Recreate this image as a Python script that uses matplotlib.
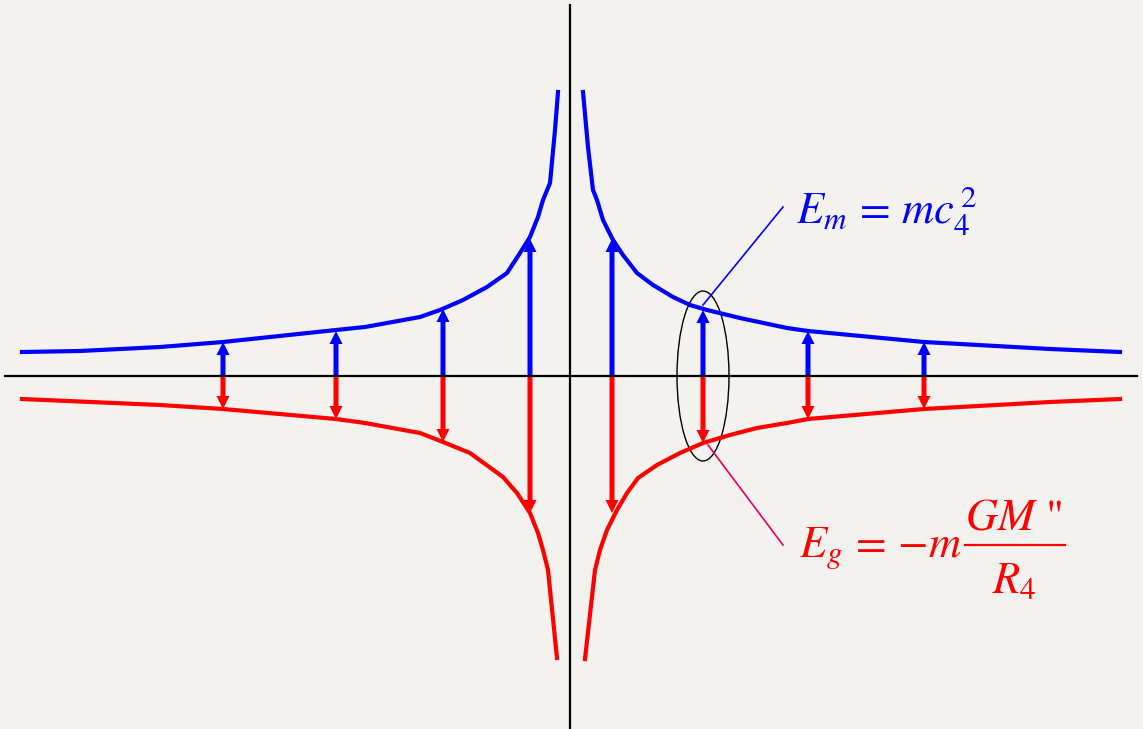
import matplotlib
matplotlib.use("Agg")
import matplotlib.pyplot as plt
from matplotlib.patches import Ellipse

plt.rcParams["mathtext.fontset"] = "stix"

# curves (x, y), origin at the axes crossing
blue_left_x = [-0.12, -0.15, -0.20, -0.27, -0.32, -0.40, -0.50, -0.63, -0.83, -1.07, -1.30, -1.50,
               -2.05, -2.34, -3.47, -4.10, -4.90, -5.48]
blue_left_y = [2.84, 2.46, 1.93, 1.76, 1.59, 1.39, 1.23, 1.03, 0.89, 0.76, 0.66, 0.59,
               0.49, 0.46, 0.34, 0.29, 0.25, 0.24]
blue_right_x = [0.13, 0.18, 0.23, 0.27, 0.33, 0.43, 0.53, 0.67, 0.83, 1.03, 1.20, 1.37, 1.70,
                2.17, 2.38, 3.54, 4.80, 5.50]
blue_right_y = [2.84, 2.29, 1.86, 1.76, 1.56, 1.36, 1.21, 1.03, 0.91, 0.79, 0.71, 0.66, 0.58,
                0.48, 0.45, 0.34, 0.27, 0.24]

red_left_x = [-0.13, -0.22, -0.27, -0.32, -0.40, -0.53, -0.67, -1.00, -1.27, -1.50,
              -2.05, -2.34, -3.47, -4.10, -5.48]
red_left_y = [-2.82, -1.94, -1.74, -1.57, -1.37, -1.17, -1.01, -0.77, -0.66, -0.57,
              -0.47, -0.43, -0.33, -0.29, -0.23]
red_right_x = [0.15, 0.25, 0.30, 0.37, 0.47, 0.57, 0.68, 0.87, 1.10, 1.33, 1.60, 1.87, 2.17,
               2.38, 3.54, 4.80, 5.50]
red_right_y = [-2.83, -1.94, -1.74, -1.54, -1.34, -1.17, -1.02, -0.89, -0.77, -0.67, -0.59, -0.52, -0.47,
               -0.43, -0.33, -0.26, -0.23]

# arrows
arrow_x = [-3.47, -2.34, -1.27, -0.40, 0.42, 1.33, 2.38, 3.54]
blue_tip = [0.34, 0.45, 0.67, 1.37, 1.37, 0.66, 0.45, 0.34]
red_tip = [-0.33, -0.43, -0.66, -1.37, -1.37, -0.67, -0.43, -0.33]

label_m = r"$E_m\,=\,mc_4^{\,2}$"
label_g = r"$E_g\,=\,{-}m$"
label_num = r'$GM$ "'
label_den = r"$R_4$"

bg = "#f3f2ee"
fig = plt.figure(figsize=(11.43, 7.29), dpi=100, facecolor=bg)
ax = fig.add_axes([0, 0, 1, 1])
ax.set_facecolor(bg)
ax.set_xlim(-5.70, 5.73)
ax.set_ylim(-3.53, 3.76)
ax.axis("off")

# axes lines
ax.plot([-5.65, 5.67], [0, 0], color="black", lw=1.6)
ax.plot([0, 0], [-3.53, 3.71], color="black", lw=1.6)

ax.plot(blue_left_x, blue_left_y, color="#0000ff", lw=3)
ax.plot(blue_right_x, blue_right_y, color="#0000ff", lw=3)
ax.plot(red_left_x, red_left_y, color="#ff0000", lw=3)
ax.plot(red_right_x, red_right_y, color="#ff0000", lw=3)

for x, bt, rt in zip(arrow_x, blue_tip, red_tip):
    ax.arrow(x, 0, 0, bt, width=0.05, head_width=0.13, head_length=0.13,
             length_includes_head=True, color="#0000ff", lw=0)
    ax.arrow(x, 0, 0, rt, width=0.05, head_width=0.13, head_length=0.13,
             length_includes_head=True, color="#ff0000", lw=0)

ax.add_patch(Ellipse((1.33, 0), 0.52, 1.70, fill=False, color="black", lw=1))

# leader lines
ax.plot([1.33, 2.13], [0.71, 1.69], color="#0000ff", lw=1.2)
ax.plot([1.38, 2.13], [-0.69, -1.69], color="#e8005e", lw=1.2)

ax.text(2.26, 1.53, label_m, color="#0000ff", fontsize=32, ha="left", va="baseline")

# E_g = -m GM"/R_4, the fraction built by hand so both parts stay full size
ax.text(2.29, -1.81, label_g, color="#ff0000", fontsize=32, ha="left", va="baseline")
ax.text(3.95, -1.53, label_num, color="#ff0000", fontsize=32, ha="left", va="baseline",
        family="STIXGeneral")
ax.plot([3.95, 4.95], [-1.69, -1.69], color="#ff0000", lw=1.6)
ax.text(4.22, -2.17, label_den, color="#ff0000", fontsize=32, ha="left", va="baseline")

fig.savefig("out.png", dpi=100, facecolor=bg)
